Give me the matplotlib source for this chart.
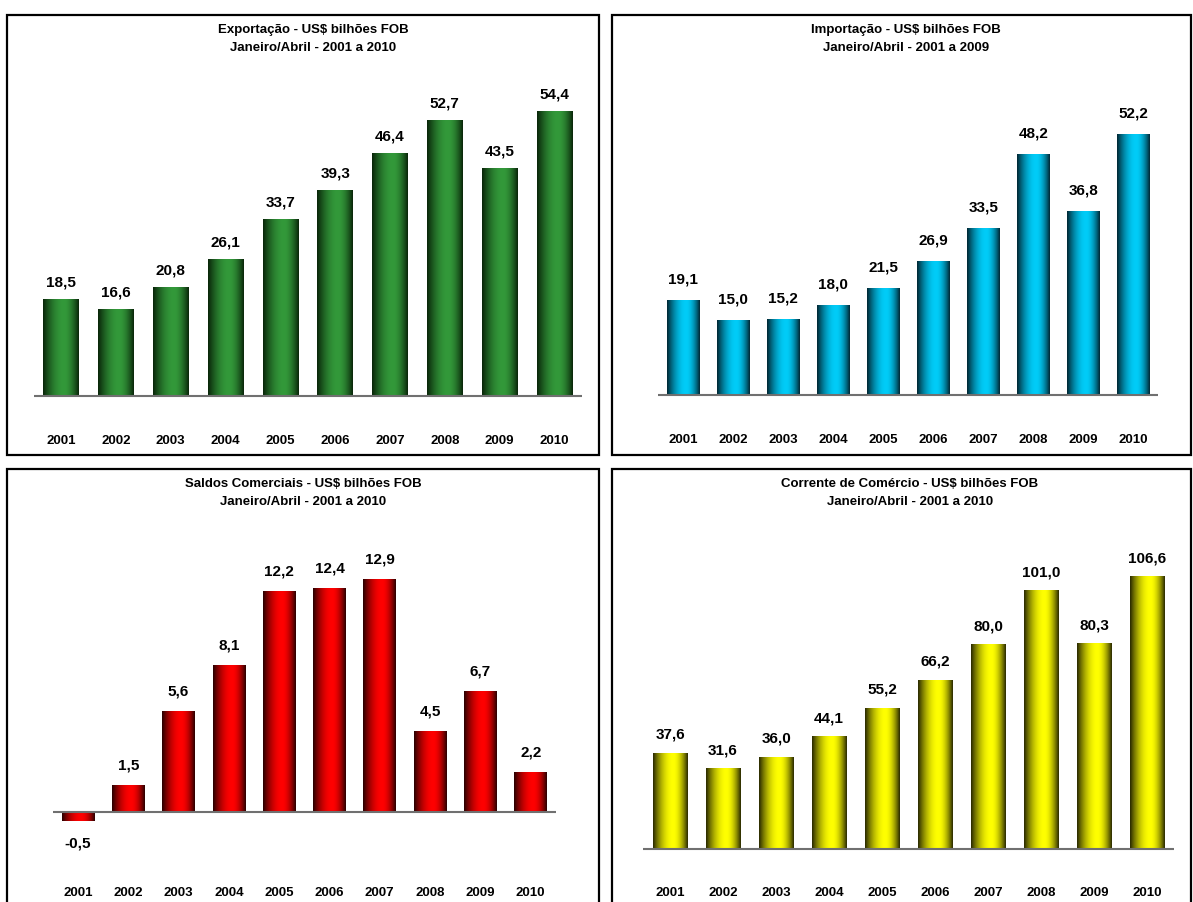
import matplotlib
matplotlib.use('Agg')
import matplotlib.pyplot as plt
import matplotlib.transforms as mtransforms
from matplotlib.colors import LinearSegmentedColormap
from matplotlib.patches import Rectangle
import numpy as np

plt.rcParams['font.family'] = ['Liberation Sans', 'DejaVu Sans']
plt.rcParams['font.weight'] = 'bold'

# dados (US$ bilhões FOB, janeiro/abril)
anos = ['2001', '2002', '2003', '2004', '2005', '2006', '2007', '2008', '2009', '2010']
exportacao = [18.5, 16.6, 20.8, 26.1, 33.7, 39.3, 46.4, 52.7, 43.5, 54.4]
importacao = [19.1, 15.0, 15.2, 18.0, 21.5, 26.9, 33.5, 48.2, 36.8, 52.2]
saldo = [-0.5, 1.5, 5.6, 8.1, 12.2, 12.4, 12.9, 4.5, 6.7, 2.2]
corrente = [37.6, 31.6, 36.0, 44.1, 55.2, 66.2, 80.0, 101.0, 80.3, 106.6]

titulos = [
    ('Exportação - US$ bilhões FOB', 'Janeiro/Abril - 2001 a 2010'),
    ('Importação - US$ bilhões FOB', 'Janeiro/Abril - 2001 a 2009'),
    ('Saldos Comerciais - US$ bilhões FOB', 'Janeiro/Abril - 2001 a 2010'),
    ('Corrente de Comércio - US$ bilhões FOB', 'Janeiro/Abril - 2001 a 2010'),
]

W, H = 1193, 902
fig = plt.figure(figsize=(W / 100, H / 100), dpi=100)

# perfil do brilho das barras, com o pico um pouco à direita do centro
t = np.linspace(0, 1, 256)
pico = 0.58
u = np.where(t < pico, t / (2 * pico), 0.5 + (t - pico) / (2 * (1 - pico)))
intens = np.sin(np.pi * u) ** 0.9


def painel(valores, titulo, cor_clara, cor_escura, caixa, x_primeiro, passo,
           base, escala, y_tit, x_tit, y_anos, off_rot):
    bx0, by0, bx1, by1 = caixa
    # moldura do painel
    fig.add_artist(Rectangle((bx0 / W, 1 - by1 / H), (bx1 - bx0) / W, (by1 - by0) / H,
                             transform=fig.transFigure, fill=False, ec='black', lw=1.6))
    esq = x_primeiro - 0.5 * passo
    dir_ = x_primeiro + 9.5 * passo
    ax = fig.add_axes([esq / W, 1 - by1 / H, (dir_ - esq) / W, (by1 - by0) / H])
    ax.set_axis_off()

    x = np.arange(len(valores))
    barras = ax.bar(x, valores, width=0.65, color='none', zorder=2)

    # gradiente horizontal (efeito cilindro)
    cmap = LinearSegmentedColormap.from_list('c', [cor_escura, cor_clara])
    for b in barras:
        x0, y0 = b.get_x(), b.get_y()
        x1, y1 = x0 + b.get_width(), y0 + b.get_height()
        im = ax.imshow(intens[None, :], cmap=cmap, vmin=0, vmax=1,
                       extent=(x0, x1, min(y0, y1), max(y0, y1)),
                       aspect='auto', interpolation='bicubic', zorder=2)
        im.set_clip_path(b)

    ax.axhline(0, color='#707070', lw=1.5, zorder=3)
    ax.set_xlim(-0.5, 9.5)
    ax.set_ylim(-(by1 - base) / escala, (base - by0) / escala)

    for i, v in enumerate(valores):
        off = off_rot if v >= 0 else -16.5
        ax.annotate(f'{v:.1f}'.replace('.', ','), (i, v), xytext=(0, off),
                    textcoords='offset points', ha='center', va='center',
                    fontsize=11, fontweight='bold')

    trans = mtransforms.blended_transform_factory(ax.transData, fig.transFigure)
    for i, a in enumerate(anos):
        ax.text(i, 1 - y_anos / H, a, transform=trans, ha='center', va='center',
                fontsize=9.5, fontweight='bold')

    fig.text(x_tit / W, 1 - y_tit / H, titulo[0], ha='center', va='center',
             fontsize=9.5, fontweight='bold')
    fig.text(x_tit / W, 1 - (y_tit + 18) / H, titulo[1], ha='center', va='center',
             fontsize=9.5, fontweight='bold')


painel(exportacao, titulos[0], '#33993a', '#082208', (7, 15, 599, 455),
       61.2, 54.8, 396, 5.24, 30, 313, 441, 12)
painel(importacao, titulos[1], '#00ccf8', '#00222e', (612, 15, 1191, 455),
       683.3, 50.0, 395, 5.0, 30, 906, 440, 14.5)
painel(saldo, titulos[2], '#ff0000', '#240000', (7, 469, 599, 905),
       78.0, 50.3, 812, 18.1, 484, 303, 893, 14)
painel(corrente, titulos[3], '#ffff00', '#242400', (612, 469, 1191, 905),
       670.0, 53.06, 849, 2.56, 484, 910, 893, 13)

fig.savefig('out.png', dpi=100)
